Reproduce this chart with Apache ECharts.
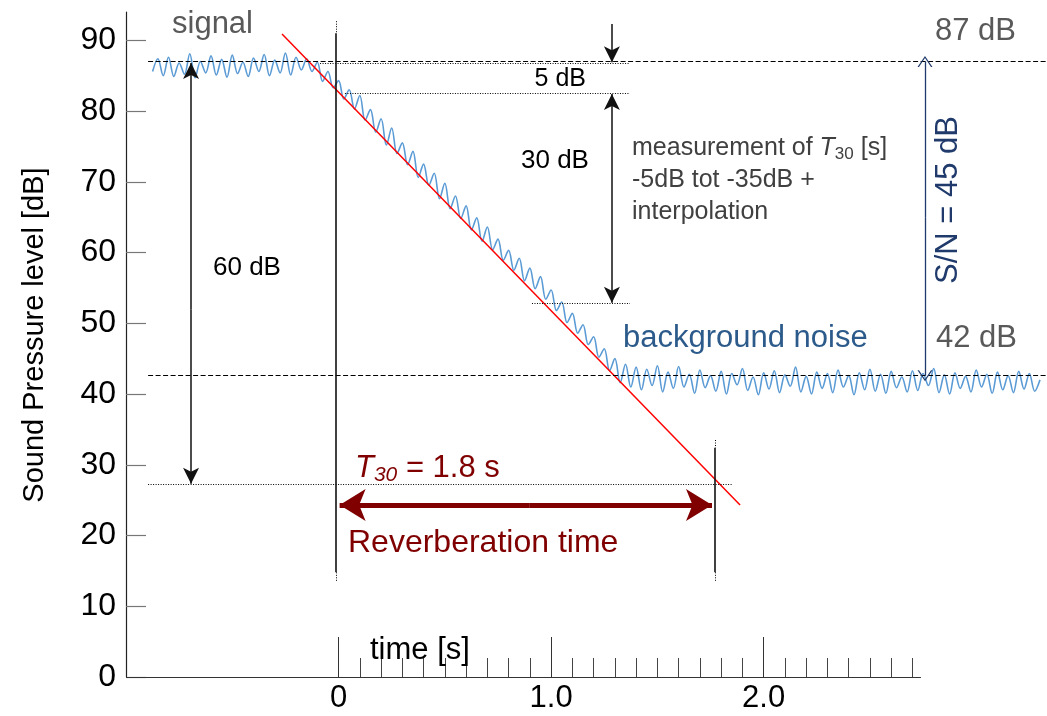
<!DOCTYPE html>
<html>
<head>
<meta charset="utf-8">
<title>Reverberation time T30</title>
<script src="https://cdn.jsdelivr.net/npm/echarts@6/dist/echarts.min.js"></script>
<style>
    html, body { margin: 0; padding: 0; background: #fff; }
    #chart { width: 1047px; height: 716px; }
</style>
</head>
<body>
<div id="chart"></div>
<script>
// measured sound level [dB], one sample every 25 ms starting at -0.875 s
var signalStart = -0.875;
var signalStep = 0.025;
var signalLevels = [
    85.6, 87.4, 85.0, 87.6, 84.9, 86.8, 85.2, 88.1, 84.7, 87.0,
    85.4, 87.8, 85.1, 87.3, 84.8, 87.9, 85.3, 86.9, 84.9, 87.5,
    85.6, 88.0, 85.0, 87.2, 85.4, 88.2, 85.1, 87.6, 85.8,
    87.4, 85.6, 86.9, 84.2, 85.6, 83.3, 84.3, 81.7, 83.0, 80.3,
    82.2, 78.7, 80.2, 77.0, 78.9, 75.2, 77.6, 74.0, 75.5, 72.4,
    74.3, 70.6, 72.5, 69.5, 71.2, 67.6, 69.8, 66.2, 68.0, 64.8,
    66.6, 63.2, 64.9, 61.6, 63.6, 60.4, 61.9, 58.9, 60.3, 57.5,
    59.2, 56.0, 57.8, 54.9, 56.6, 53.4, 54.7, 51.8, 53.0, 50.1,
    51.4, 48.6, 49.8, 47.0, 48.1, 45.2, 46.4, 43.3, 45.0, 41.6,
    44.2, 41.0,
    43.8, 40.6, 43.5, 41.2, 44.0, 40.3, 43.1, 40.8, 43.9, 41.0,
    42.8, 40.1, 43.4, 40.9, 42.6, 40.4, 43.2, 40.0, 42.9, 41.3,
    43.6, 40.5, 42.4, 39.9, 43.0, 40.7, 43.3, 40.2, 42.7, 41.1,
    43.8, 40.3, 42.5, 40.0, 43.1, 40.8, 42.9, 40.2, 43.4, 41.0,
    42.6, 39.9, 43.0, 40.6, 43.5, 40.4, 42.8, 40.1, 43.2, 40.9,
    42.4, 40.3, 43.3, 40.5, 42.9, 41.2, 43.6, 40.2, 42.7, 40.0,
    43.0, 40.8, 42.5, 40.3, 43.4, 41.0, 42.8, 40.1, 43.1, 40.6,
    42.6, 40.2, 43.2, 40.7, 42.9, 40.4, 42.0
];

// fitted decay line (red)
var fitTimes = [-0.266, 1.889];
var fitLevels = [90.9, 24.3];

// axis ticks
var yTickValues = [0, 10, 20, 30, 40, 50, 60, 70, 80, 90];
var xMajorValues = [0, 1, 2];
var xMinorValues = [0.1, 0.2, 0.3, 0.4, 0.5, 0.6, 0.7, 0.8, 0.9,
    1.1, 1.2, 1.3, 1.4, 1.5, 1.6, 1.7, 1.8, 1.9,
    2.1, 2.2, 2.3, 2.4, 2.5, 2.6, 2.7];

// levels [dB] of the construction lines
var levelSignal = 87.0;
var levelNoise = 42.6;
var level5 = 82.5;
var level35 = 52.8;
var level60 = 27.2;
var levelT30Arrow = 24.3;

// times [s] of the construction lines
var tZero = -0.012;
var tT30 = 1.771;

var FONT = 'Liberation Sans, Arial, sans-serif';
var xMin = -1, xMax = 3.333;

var myChart = echarts.init(document.getElementById('chart'));

var signalData = [];
for (var i = 0; i < signalLevels.length; i++) {
    signalData.push([signalStart + i * signalStep, signalLevels[i]]);
}
var fitData = [];
for (var j = 0; j < fitTimes.length; j++) {
    fitData.push([fitTimes[j], fitLevels[j]]);
}

var dashed = {color: '#000', width: 1, type: [5, 2.5]};
var dotted = {color: '#000', width: 1, type: [1, 1.5]};
var solid = {color: '#111', width: 1.6, type: 'solid'};
var arrowLine = {color: '#111', width: 1.5, type: 'solid'};
var navyLine = {color: '#1f3a6b', width: 1.3, type: 'solid'};
var redArrow = {color: '#800000', width: 5, type: 'solid'};

var chevron = 'path://M0,10 L5,0 L10,10 L9,10 L5,1.8 L1,10 Z';

function seg(x1, y1, x2, y2, style, s1, s2, size) {
    return [
        {coord: [x1, y1], symbol: s1 || 'none', symbolSize: size || [12, 16], lineStyle: style},
        {coord: [x2, y2], symbol: s2 || 'none', symbolSize: size || [12, 16]}
    ];
}

var guides = [
    // axis line
    seg(xMin, 0, 2.74, 0, {color: '#333', width: 1.2, type: 'solid'}),
    // horizontal levels
    seg(-0.896, levelSignal, xMax, levelSignal, dashed),
    seg(-0.896, levelNoise, xMax, levelNoise, dashed),
    seg(-0.087, levelSignal - 0.3, 1.371, levelSignal - 0.3, dotted),
    seg(0.03, level5, 1.371, level5, dotted),
    seg(0.91, level35, 1.371, level35, dotted),
    seg(-0.896, level60, 1.853, level60, dotted),
    // vertical lines at t = 0 and t = T30
    seg(tZero, 92.7, tZero, 91.0, dotted),
    seg(tZero, 91.0, tZero, 14.8, solid),
    seg(tZero, 14.8, tZero, 13.4, dotted),
    seg(tT30, 33.5, tT30, 32.4, dotted),
    seg(tT30, 32.4, tT30, 14.8, solid),
    seg(tT30, 14.8, tT30, 13.4, dotted),
    // 60 dB arrow
    seg(-0.694, 52, -0.694, levelSignal - 0.2, arrowLine, 'none', 'arrow'),
    seg(-0.694, 52, -0.694, level60 + 0.1, arrowLine, 'none', 'arrow'),
    // 5 dB and 30 dB arrows
    seg(1.286, 92.3, 1.286, levelSignal - 0.1, arrowLine, 'none', 'arrow'),
    seg(1.286, 68, 1.286, level5 - 0.1, arrowLine, 'none', 'arrow'),
    seg(1.286, 68, 1.286, level35 + 0.1, arrowLine, 'none', 'arrow'),
    // S/N arrow
    seg(2.759, 65, 2.759, levelSignal, navyLine, 'none', chevron, [15, 11]),
    seg(2.759, 65, 2.759, levelNoise, navyLine, 'none', chevron, [15, 11]),
    // reverberation time arrow
    seg(0.9, levelT30Arrow, 0.005, levelT30Arrow, redArrow, 'none', 'arrow', [24, 26]),
    seg(0.9, levelT30Arrow, 1.757, levelT30Arrow, redArrow, 'none', 'arrow', [24, 26])
];

function txt(x, y, text, size, color, extra) {
    var el = {
        type: 'text', x: x, y: y, silent: true, z: 100,
        style: {
            text: text, fontSize: size, fontFamily: FONT, fill: color,
            align: 'left', textAlign: 'left',
            verticalAlign: 'middle', textVerticalAlign: 'middle'
        }
    };
    if (extra) {
        for (var k in extra) {
            if (k === 'style') {
                for (var s in extra.style) el.style[s] = extra.style[s];
            } else {
                el[k] = extra[k];
            }
        }
    }
    return el;
}

var option = {
    backgroundColor: '#fff',
    animation: false,
    grid: {left: 126, right: 0, top: 12, bottom: 39},
    xAxis: [
        {
            type: 'value', min: xMin, max: xMax, position: 'bottom',
            axisLine: {show: false, onZero: false},
            splitLine: {show: false},
            axisTick: {show: true, inside: true, length: 40, customValues: xMajorValues,
                lineStyle: {color: '#333', width: 1}},
            axisLabel: {
                customValues: xMajorValues, margin: 6,
                fontSize: 31, fontFamily: FONT, color: '#000',
                formatter: function (v) { return v === 0 ? '0' : v.toFixed(1); }
            }
        },
        {
            type: 'value', min: xMin, max: xMax, position: 'bottom',
            axisLine: {show: false, onZero: false},
            splitLine: {show: false},
            axisLabel: {show: false},
            axisTick: {show: true, inside: true, length: 19, customValues: xMinorValues,
                lineStyle: {color: '#444', width: 1}}
        }
    ],
    yAxis: {
        type: 'value', min: 0, max: 94,
        axisLine: {show: true, onZero: false, lineStyle: {color: '#222', width: 1.2}},
        splitLine: {show: false},
        axisTick: {show: true, inside: true, length: 20, customValues: yTickValues,
            lineStyle: {color: '#777', width: 1.2}},
        axisLabel: {customValues: yTickValues, margin: 10, fontSize: 32,
            fontFamily: FONT, color: '#000'}
    },
    series: [
        {
            name: 'signal', type: 'line', data: signalData,
            symbol: 'none', smooth: 0.35,
            lineStyle: {color: '#5b9bd5', width: 1.6},
            z: 3
        },
        {
            name: 'fit', type: 'line', data: fitData,
            symbol: 'none',
            lineStyle: {color: '#ff0000', width: 1.5},
            z: 4
        },
        {
            name: 'guides', type: 'line', data: [], clip: false,
            markLine: {
                silent: true, animation: false,
                symbol: ['none', 'none'],
                label: {show: false},
                emphasis: {disabled: true},
                data: guides
            },
            z: 5
        }
    ],
    graphic: [
        txt(35, 335, 'Sound Pressure level [dB]', 29, '#000', {
            rotation: Math.PI / 2, style: {align: 'center', textAlign: 'center'}}),
        txt(172, 24, 'signal', 31, '#595959'),
        txt(935, 31, '87 dB', 31, '#595959'),
        txt(936, 338, '42 dB', 31, '#595959'),
        txt(623, 338, 'background noise', 31, '#2c5b8b'),
        txt(948, 200, 'S/N = 45 dB', 31, '#1f3a6b', {
            rotation: Math.PI / 2, style: {align: 'center', textAlign: 'center'}}),
        txt(586, 79, '5 dB', 25, '#000', {style: {align: 'right', textAlign: 'right'}}),
        txt(521, 161, '30 dB', 26, '#000'),
        txt(213, 268, '60 dB', 26, '#000'),
        txt(632, 148, '{n|measurement of }{i|T}{s|30}{n| [s]}', 25, '#404040', {
            style: {rich: {
                n: {fontSize: 25, fontFamily: FONT, fill: '#404040', lineHeight: 30},
                i: {fontSize: 25, fontFamily: FONT, fill: '#404040', fontStyle: 'italic', lineHeight: 30},
                s: {fontSize: 17, fontFamily: FONT, fill: '#404040', lineHeight: 12, verticalAlign: 'bottom'}
            }}}),
        txt(632, 180, '-5dB tot -35dB +', 25, '#404040'),
        txt(632, 212, 'interpolation', 25, '#404040'),
        txt(355, 468, '{i|T}{s|30}{n| = 1.8 s}', 31, '#800000', {
            style: {rich: {
                n: {fontSize: 31, fontFamily: FONT, fill: '#800000', lineHeight: 36},
                i: {fontSize: 31, fontFamily: FONT, fill: '#800000', fontStyle: 'italic', lineHeight: 36},
                s: {fontSize: 21, fontFamily: FONT, fill: '#800000', fontStyle: 'italic', lineHeight: 14, verticalAlign: 'bottom'}
            }}}),
        txt(348, 543, 'Reverberation time', 32, '#800000'),
        txt(370, 650, 'time [s]', 31, '#000')
    ]
};

myChart.setOption(option);
</script>
</body>
</html>
